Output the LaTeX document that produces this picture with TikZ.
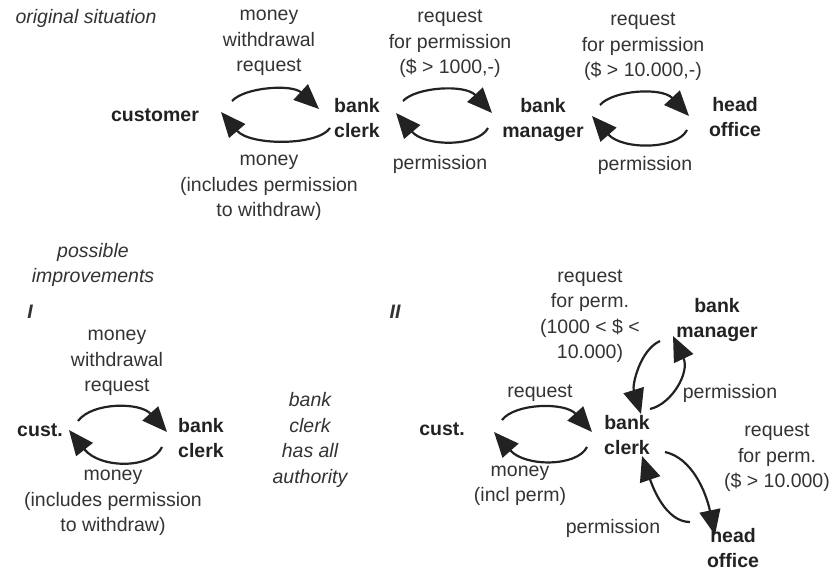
\documentclass[tikz,border=0pt]{standalone}
\usepackage{fontspec}
\setmainfont{Liberation Sans}
\usetikzlibrary{arrows.meta}
\definecolor{ink}{HTML}{333333}
\definecolor{inkd}{HTML}{222222}
\begin{document}
\begin{tikzpicture}[x=1pt,y=-1pt,
  txt/.style={font=\fontsize{19.5}{25.5}\selectfont, text=ink, align=center, inner sep=0pt},
  bld/.style={txt, font=\fontsize{19.5}{25.5}\selectfont\bfseries, text=inkd},
  ital/.style={txt, font=\fontsize{19.5}{25.5}\selectfont\itshape},
  numl/.style={txt, font=\fontsize{19.5}{25.5}\selectfont\bfseries\itshape},
  arr/.style={line width=2.2pt, draw=inkd, -{Triangle[length=25pt,width=21pt]}}]
\useasboundingbox (0,0) rectangle (834,572);

% ---------- original situation ----------
\node[ital] (orig) at (86,18) {original situation};
\node[txt] (l1) at (269,43) {money\\withdrawal\\request};
\node[txt] (l2) at (450,44) {request\\for permission\\(\$ > 1000,-)};
\node[txt] (l3) at (643,47) {request\\for permission\\(\$ > 10.000,-)};
\node[bld] (cust) at (155,115) {customer};
\node[bld] (clerk) at (357,118) {bank\\clerk};
\node[bld] (mgr) at (543,120) {bank\\manager};
\node[bld] (head) at (735,117) {head\\office};
\node[txt] (l4) at (269,188) {money\\(includes permission\\to withdraw)};
\node[txt] (l5) at (440,164) {permission};
\node[txt] (l6) at (645,165) {permission};

\coordinate (a1s) at (232,101); \coordinate (a1e) at (319,109);
\coordinate (b1s) at (330,128); \coordinate (b1e) at (221,112);
\draw[arr] (a1s) .. controls (245,87) and (292,84) .. (a1e);
\draw[arr] (b1s) .. controls (318,146) and (250,146) .. (b1e);

\coordinate (a2s) at (403,101); \coordinate (a2e) at (492,113);
\coordinate (b2s) at (488,128); \coordinate (b2e) at (396,113);
\draw[arr] (a2s) .. controls (416,87) and (465,84) .. (a2e);
\draw[arr] (b2s) .. controls (478,147) and (425,147) .. (b2e);

\coordinate (a3s) at (600,105); \coordinate (a3e) at (689,116);
\coordinate (b3s) at (687,130); \coordinate (b3e) at (592,116);
\draw[arr] (a3s) .. controls (613,90) and (662,87) .. (a3e);
\draw[arr] (b3s) .. controls (677,150) and (622,150) .. (b3e);

% ---------- possible improvements ----------
\node[ital] (poss) at (93,265) {possible\\improvements};
\node[numl] (one) at (30,312) {I};
\node[numl] (two) at (395,312) {II};

% I
\node[txt] (m1) at (117,363) {money\\withdrawal\\request};
\node[bld] (custI) at (40,430) {cust.};
\node[bld] (clerkI) at (201,438) {bank\\clerk};
\node[txt] (m2) at (113,503) {money\\(includes permission\\to withdraw)};
\node[ital] (auth) at (310,440) {bank\\clerk\\has all\\authority};

\coordinate (a4s) at (78,421); \coordinate (a4e) at (167,432);
\coordinate (b4s) at (162,447); \coordinate (b4e) at (69,430);
\draw[arr] (a4s) .. controls (92,402) and (140,402) .. (a4e);
\draw[arr] (b4s) .. controls (152,469) and (100,469) .. (b4e);

% II
\node[txt] (r1) at (590,316) {request\\for perm.\\(1000 < \$ <\\10.000)};
\node[bld] (mgrII) at (717,320) {bank\\manager};
\node[txt] (r2) at (540,393) {request};
\node[txt] (r3) at (730,393) {permission};
\node[bld] (custII) at (442,429) {cust.};
\node[bld] (clerkII) at (627,435) {bank\\clerk};
\node[txt] (r4) at (777,458) {request\\for perm.\\(\$ > 10.000)};
\node[txt] (r5) at (520,486) {money\\(incl perm)};
\node[txt] (r6) at (613,528) {permission};
\node[bld] (headII) at (733,548) {head\\office};

\coordinate (a5s) at (502,420); \coordinate (a5e) at (592,432);
\coordinate (b5s) at (587,447); \coordinate (b5e) at (494,432);
\draw[arr] (a5s) .. controls (515,403) and (565,402) .. (a5e);
\draw[arr] (b5s) .. controls (577,467) and (525,467) .. (b5e);

\coordinate (m1s) at (660,341); \coordinate (m1e) at (641,414);
\coordinate (m2s) at (650,409); \coordinate (m2e) at (673,336);
\draw[arr] (m1s) .. controls (640,350) and (632,385) .. (m1e);
\draw[arr] (m2s) .. controls (672,404) and (690,372) .. (m2e);

\coordinate (h1s) at (665,452); \coordinate (h1e) at (715,535);
\coordinate (h2s) at (690,522); \coordinate (h2e) at (642,456);
\draw[arr] (h1s) .. controls (692,458) and (706,492) .. (h1e);
\draw[arr] (h2s) .. controls (666,522) and (653,488) .. (h2e);
\end{tikzpicture}
\end{document}
